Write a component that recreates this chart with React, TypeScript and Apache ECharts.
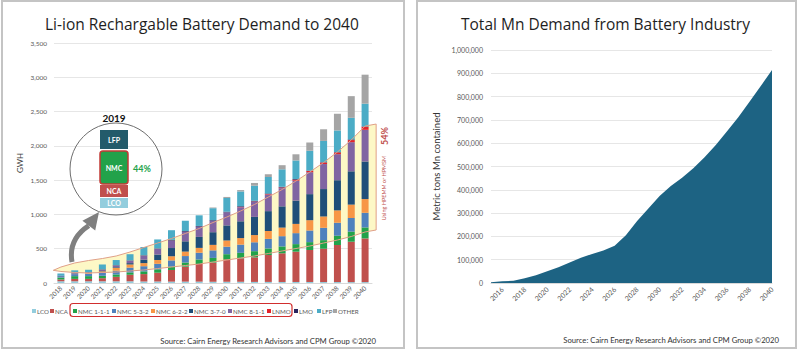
import React, { useEffect, useRef } from 'react';
import * as echarts from 'echarts';

// ---------- Left chart: Li-ion battery demand (GWh) ----------
const years = ['2018','2019','2020','2021','2022','2023','2024','2025','2026','2027','2028','2029','2030','2031','2032','2033','2034','2035','2036','2037','2038','2039','2040'];
const LCO    = [25,25,25,25,25,25,22,22,20,20,20,18,18,18,16,16,15,15,15,14,14,13,13];
const NCA    = [25,35,35,45,65,95,108,128,170,218,257,278,327,342,358,392,418,442,466,486,540,589,637];
const NMC111 = [30,40,40,35,35,35,40,50,50,60,65,70,75,80,90,95,100,110,115,125,135,146,160];
const NMC532 = [20,30,35,45,55,70,75,80,90,95,100,110,110,120,130,140,150,160,170,180,190,200,214];
const NMC622 = [0,5,10,20,40,45,45,55,60,65,70,80,90,95,105,115,125,135,150,165,180,195,200];
const NMC370 = [0,0,0,5,10,20,50,80,120,150,160,185,220,245,265,290,310,340,380,400,440,486,548];
const NMC811 = [0,5,8,20,25,35,60,85,110,140,150,165,190,205,220,240,265,290,320,365,380,425,462];
const LNMO   = [0,0,0,0,0,0,0,0,0,0,0,0,0,5,5,8,10,15,18,22,25,30,45];
const LMO    = [5,5,5,5,5,5,5,5,10,10,10,10,10,10,10,10,10,10,5,5,5,10,5];
const LFP    = [35,40,35,70,75,90,120,130,140,150,155,175,200,215,220,240,255,270,290,310,316,315,331];
const OTHER  = [0,0,0,0,0,0,0,0,0,0,0,10,15,20,40,40,60,90,120,170,243,316,423];
const leftTicks = [0, 500, 1000, 1500, 2000, 2500, 3000, 3500];

// highlighted NMC band (annotation), position on a year-index scale
const bandX     = [-0.55,0,1,2,3,4,5,6,7,8,9,10,11,12,13,14,15,16,17,18,19,20,21,22,22.8];
const bandLower = [185,168,153,146,153,160,175,190,211,233,255,277,306,335,365,394,430,467,503,539,583,627,678,744,773];
const bandUpper = [185,233,292,328,357,394,452,518,583,649,722,795,882,962,1050,1145,1254,1363,1487,1618,1757,1910,2085,2289,2318];

// ---------- Right chart: Mn demand (t) ----------
const mnYears = ['2015','2016','2017','2018','2019','2020','2021','2022','2023','2024','2025','2026','2027','2028','2029','2030','2031','2032','2033','2034','2035','2036','2037','2038','2039','2040'];
const mnDemand = [3000,7000,10000,20000,33000,50000,68000,88000,108000,125000,140000,160000,205000,266000,320000,373000,416000,452000,492000,540000,592000,651000,711000,778000,845000,914000];

const seriesDefs = [
  { name: 'LCO', data: LCO, color: '#93cddd' },
  { name: 'NCA', data: NCA, color: '#c0504d' },
  { name: 'NMC 1-1-1', data: NMC111, color: '#22a24a' },
  { name: 'NMC 5-3-2', data: NMC532, color: '#4f81bd' },
  { name: 'NMC 6-2-2', data: NMC622, color: '#f79646' },
  { name: 'NMC 3-7-0', data: NMC370, color: '#1f4e79' },
  { name: 'NMC 8-1-1', data: NMC811, color: '#8064a2' },
  { name: 'LNMO', data: LNMO, color: '#e3222b' },
  { name: 'LMO', data: LMO, color: '#27245e' },
  { name: 'LFP', data: LFP, color: '#4bacc6' },
  { name: 'OTHER', data: OTHER, color: '#a5a5a5' },
];
// left edge of each legend entry (layout)
const legendLeft = [32, 50, 73, 112, 151, 189, 228, 267, 294, 317, 333];

const FONT = 'Lato, "Noto Sans", sans-serif';
const TITLE_FONT = '"Open Sans", Lato, sans-serif';
const fmt = (v: number) => v.toLocaleString('en-US');

function bandRender(fill: string, stroke: string) {
  return (params: any, api: any) => {
    if (params.dataIndex !== 1) return null;
    const pts: number[][] = [];
    for (let i = 0; i < bandX.length; i++) pts.push(api.coord([bandX[i], bandUpper[i]]));
    for (let i = bandX.length - 1; i >= 0; i--) pts.push(api.coord([bandX[i], bandLower[i]]));
    return {
      type: 'polygon',
      shape: { points: pts },
      style: { fill, stroke, lineWidth: 1 },
    };
  };
}

export default function App() {
  const ref = useRef<HTMLDivElement>(null);
  useEffect(() => {
    if (!ref.current) return;
    const chart = echarts.init(ref.current, null, { renderer: 'svg' });
    const bandData = bandX.map((x, i) => [x, bandLower[i], bandUpper[i]]);

    // arrow geometry (annotation)
    const tip = [99, 212];
    const d = [0.6, -0.8];
    const p = [0.8, 0.6];
    const base = [tip[0] - 17 * d[0], tip[1] - 17 * d[1]];

    const option: any = {
      animation: false,
      backgroundColor: '#ffffff',
      textStyle: { fontFamily: FONT },
      title: [
        { text: 'Li-ion Rechargable Battery Demand to 2040', left: 40, top: 11,
          textStyle: { fontFamily: TITLE_FONT, fontSize: 15.5, fontWeight: 'normal', color: '#1e1e1e' } },
        { text: 'Total Mn Demand from Battery Industry', left: 456, top: 11,
          textStyle: { fontFamily: TITLE_FONT, fontSize: 15.5, fontWeight: 'normal', color: '#1e1e1e' } },
      ],
      legend: seriesDefs.map((s, i) => ({
        data: [s.name],
        left: legendLeft[i], top: 308, padding: 0,
        itemWidth: 4, itemHeight: 4,
        icon: 'rect',
        selectedMode: false,
        textStyle: { fontSize: 6.2, color: '#595959', fontFamily: FONT, padding: [0, 0, 0, -4] },
      })),
      grid: [
        { left: 54, top: 43, width: 318, height: 240, containLabel: false },
        { left: 491, top: 50, width: 281, height: 233, containLabel: false },
      ],
      xAxis: [
        { type: 'category', gridIndex: 0, data: years, boundaryGap: true,
          axisLine: { lineStyle: { color: '#d9d9d9' } }, axisTick: { show: false },
          axisLabel: { rotate: 45, fontSize: 6.5, color: '#595959', margin: 4, interval: 0 } },
        { type: 'value', gridIndex: 0, min: -0.5, max: 22.5, show: false },
        { type: 'category', gridIndex: 1, data: mnYears, boundaryGap: false,
          axisLine: { lineStyle: { color: '#d9d9d9' } }, axisTick: { show: false },
          axisLabel: { rotate: 45, fontSize: 7, color: '#595959', margin: 5,
            interval: (i: number, v: string) => parseInt(v, 10) % 2 === 0 } },
      ],
      yAxis: [
        { type: 'value', gridIndex: 0, min: leftTicks[0], max: leftTicks[leftTicks.length - 1], interval: 500,
          name: 'GWH', nameLocation: 'middle', nameGap: 30, nameRotate: 90,
          nameTextStyle: { fontSize: 8, color: '#404040' },
          axisLine: { show: false }, axisTick: { show: false },
          axisLabel: { fontSize: 6.5, color: '#595959', margin: 7, formatter: fmt },
          splitLine: { lineStyle: { color: '#e6e6e6' } } },
        { type: 'value', gridIndex: 1, min: 0, max: 1000000, interval: 100000,
          name: 'Metric tons Mn contained', nameLocation: 'middle', nameGap: 50, nameRotate: 90,
          nameTextStyle: { fontSize: 9.5, color: '#333333' },
          axisLine: { show: false }, axisTick: { show: false },
          axisLabel: { fontSize: 7, color: '#595959', margin: 8, formatter: fmt },
          splitLine: { lineStyle: { color: '#e6e6e6' } } },
      ],
      series: [
        { type: 'custom', name: 'band-fill', xAxisIndex: 1, yAxisIndex: 0, data: bandData,
          encode: { x: 0, y: [1, 2] }, renderItem: bandRender('#fdf8c6', 'none'), z: 1, clip: false, silent: true },
        ...seriesDefs.map(s => ({
          type: 'bar', name: s.name, data: s.data, stack: 'gwh', xAxisIndex: 0, yAxisIndex: 0,
          barWidth: 7, itemStyle: { color: s.color }, z: 2,
        })),
        { type: 'custom', name: 'band-line', xAxisIndex: 1, yAxisIndex: 0, data: bandData,
          encode: { x: 0, y: [1, 2] }, renderItem: bandRender('none', '#e0a088'), z: 5, clip: false, silent: true },
        { type: 'line', name: 'Mn', data: mnDemand, xAxisIndex: 2, yAxisIndex: 1,
          symbol: 'none', lineStyle: { width: 0 }, areaStyle: { color: '#1d6383', opacity: 1 }, z: 2 },
      ],
      graphic: [
        // panel frames
        { type: 'rect', shape: { x: 2, y: 1, width: 402, height: 347 }, style: { fill: 'none', stroke: '#c4c4c4', lineWidth: 2 }, silent: true },
        { type: 'rect', shape: { x: 417, y: 1, width: 379, height: 347 }, style: { fill: 'none', stroke: '#c4c4c4', lineWidth: 2 }, silent: true },
        // inset circle
        { type: 'circle', shape: { cx: 116, cy: 169, r: 46 }, style: { fill: 'none', stroke: '#6e6e6e', lineWidth: 1 }, z: 10 },
        { type: 'text', x: 114, y: 118, style: { text: '2019', font: `bold 10px ${FONT}`, fill: '#111', textAlign: 'center', textVerticalAlign: 'middle' }, z: 10 },
        { type: 'rect', shape: { x: 100, y: 130, width: 28, height: 19 }, style: { fill: '#235b6b' }, z: 10 },
        { type: 'rect', shape: { x: 100, y: 151, width: 28, height: 33, r: 3 }, style: { fill: '#22a24a', stroke: '#c23a35', lineWidth: 1.5 }, z: 10 },
        { type: 'rect', shape: { x: 100, y: 185, width: 28, height: 12 }, style: { fill: '#c0504d' }, z: 10 },
        { type: 'rect', shape: { x: 100, y: 198, width: 28, height: 10 }, style: { fill: '#93cddd' }, z: 10 },
        { type: 'text', x: 114, y: 140, style: { text: 'LFP', font: `bold 7px ${FONT}`, fill: '#fff', textAlign: 'center', textVerticalAlign: 'middle' }, z: 11 },
        { type: 'text', x: 114, y: 168, style: { text: 'NMC', font: `bold 7px ${FONT}`, fill: '#fff', textAlign: 'center', textVerticalAlign: 'middle' }, z: 11 },
        { type: 'text', x: 114, y: 191, style: { text: 'NCA', font: `bold 7px ${FONT}`, fill: '#fff', textAlign: 'center', textVerticalAlign: 'middle' }, z: 11 },
        { type: 'text', x: 114, y: 203, style: { text: 'LCO', font: `bold 7px ${FONT}`, fill: '#fff', textAlign: 'center', textVerticalAlign: 'middle' }, z: 11 },
        { type: 'text', x: 133, y: 168, style: { text: '44%', font: `bold 9px ${FONT}`, fill: '#22a24a', textAlign: 'left', textVerticalAlign: 'middle' }, z: 11 },
        // arrow
        { type: 'bezierCurve', shape: { x1: 72, y1: 262, cpx1: 69, cpy1: 245, cpx2: 76, cpy2: 234, x2: base[0], y2: base[1] },
          style: { stroke: '#7f7f7f', lineWidth: 5, fill: 'none' }, z: 10 },
        { type: 'polygon', shape: { points: [tip, [base[0] + 8 * p[0], base[1] + 8 * p[1]], [base[0] - 8 * p[0], base[1] - 8 * p[1]]] },
          style: { fill: '#7f7f7f' }, z: 10 },
        // band annotations
        { type: 'text', x: 384, y: 136, rotation: Math.PI / 2, style: { text: '54%', font: `bold 9px ${FONT}`, fill: '#c0504d', textAlign: 'center', textVerticalAlign: 'middle' }, z: 10 },
        { type: 'text', x: 384, y: 188, rotation: Math.PI / 2, style: { text: 'Using HPEMM or HPMSM', font: `5.5px ${FONT}`, fill: '#c0504d', textAlign: 'center', textVerticalAlign: 'middle' }, z: 10 },
        // legend highlight box
        { type: 'rect', shape: { x: 70, y: 303.5, width: 222, height: 13, r: 3 }, style: { fill: 'none', stroke: '#d12e2e', lineWidth: 1.2 }, z: 10 },
        // sources
        { type: 'text', x: 376, y: 341, style: { text: 'Source: Cairn Energy Research Advisors and CPM Group ©2020', font: `7.7px ${FONT}`, fill: '#333', textAlign: 'right', textVerticalAlign: 'middle' } },
        { type: 'text', x: 779, y: 340, style: { text: 'Source: Cairn Energy Research Advisors and CPM Group ©2020', font: `7.7px ${FONT}`, fill: '#333', textAlign: 'right', textVerticalAlign: 'middle' } },
      ],
    };
    chart.setOption(option);
    return () => chart.dispose();
  }, []);
  return <div ref={ref} style={{ position: 'absolute', left: 0, top: 0, width: 800, height: 351 }} />;
}
